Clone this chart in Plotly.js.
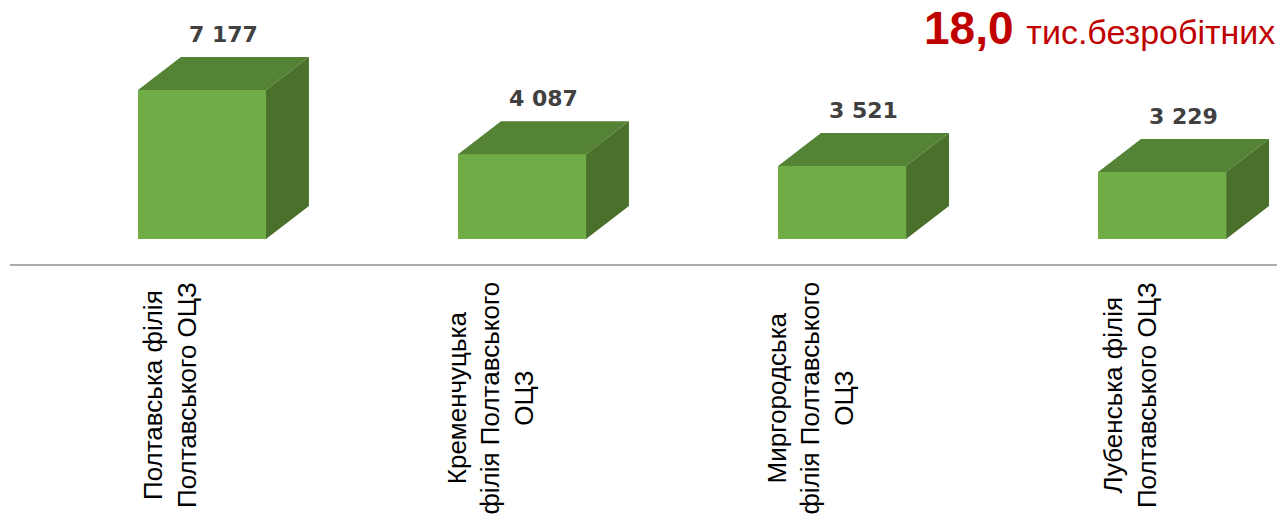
<!DOCTYPE html>
<html>
<head>
<meta charset="utf-8">
<script src="https://cdn.plot.ly/plotly-3.0.1.min.js"></script>
<style>html,body{margin:0;padding:0;background:#fff;}#chart{width:1277px;height:518px;}</style>
</head>
<body>
<div id="chart"></div>
<script>
var categories = [
  "Полтавська філія<br>Полтавського ОЦЗ",
  "Кременчуцька<br>філія Полтавського<br>ОЦЗ",
  "Миргородська<br>філія Полтавського<br>ОЦЗ",
  "Лубенська філія<br>Полтавського ОЦЗ"
];
var values = [7177, 4087, 3521, 3229];
var valueLabels = ["7 177", "4 087", "3 521", "3 229"];
var totalValue = "18,0";
var totalUnit = "тис.безробітних";

// 3D box geometry (in axis units)
var barWidth = 0.4;
var depthX = 0.134;
var depthY = 1590;

var xs = values.map(function(v, i){ return i; });

var topX = [], topY = [], sideX = [], sideY = [];
values.forEach(function(v, i){
  var l = i - barWidth/2, r = i + barWidth/2;
  topX.push(l, l + depthX, r + depthX, r, l, null);
  topY.push(v, v + depthY, v + depthY, v, v, null);
  sideX.push(r, r + depthX, r + depthX, r, r, null);
  sideY.push(0, depthY, v + depthY, v, 0, null);
});

var traces = [
  {type: 'bar', x: xs, y: values, width: barWidth,
   marker: {color: '#70AD47', line: {width: 0}}, hoverinfo: 'skip'},
  {type: 'scatter', mode: 'lines', x: topX, y: topY, fill: 'toself',
   fillcolor: '#558336', line: {width: 0, color: '#558336'}, hoverinfo: 'skip'},
  {type: 'scatter', mode: 'lines', x: sideX, y: sideY, fill: 'toself',
   fillcolor: '#49712B', line: {width: 0, color: '#49712B'}, hoverinfo: 'skip'}
];

var annotations = [];
values.forEach(function(v, i){
  annotations.push({
    x: i + depthX/2, y: v + depthY, xref: 'x', yref: 'y',
    text: valueLabels[i], showarrow: false, xanchor: 'center', yanchor: 'bottom',
    yshift: 8,
    font: {family: 'DejaVu Sans', size: 22, color: '#404040', weight: 'bold'}
  });
  annotations.push({
    x: i - 0.1, y: 0, xref: 'x', yref: 'paper',
    text: categories[i], showarrow: false, textangle: -90,
    xanchor: 'center', yanchor: 'top', align: 'center', yshift: -16,
    font: {family: 'Liberation Sans, Arial, sans-serif', size: 26, color: '#000000'}
  });
});
annotations.push({
  x: 1, y: 1, xref: 'paper', yref: 'paper', xanchor: 'right', yanchor: 'top',
  xshift: 0, yshift: 0,
  showarrow: false,
  text: '<b>' + totalValue + '</b> <span style="font-size:34px">' + totalUnit + '</span>',
  font: {family: 'Liberation Sans, Arial, sans-serif', size: 46, color: '#C00000'}
});

var layout = {
  width: 1277, height: 518,
  margin: {l: 10, r: 0, t: 0, b: 254},
  paper_bgcolor: '#ffffff', plot_bgcolor: '#ffffff',
  showlegend: false,
  bargap: 0,
  xaxis: {range: [-0.6, 3.359], showgrid: false, zeroline: false,
          showticklabels: false, ticks: '', showline: true,
          linecolor: '#ABABAB', linewidth: 1.5, fixedrange: true},
  yaxis: {range: [-1204, 11512], showgrid: false, zeroline: false,
          showticklabels: false, ticks: '', showline: false, fixedrange: true},
  annotations: annotations
};

Plotly.newPlot('chart', traces, layout, {displayModeBar: false, staticPlot: true});
</script>
</body>
</html>
